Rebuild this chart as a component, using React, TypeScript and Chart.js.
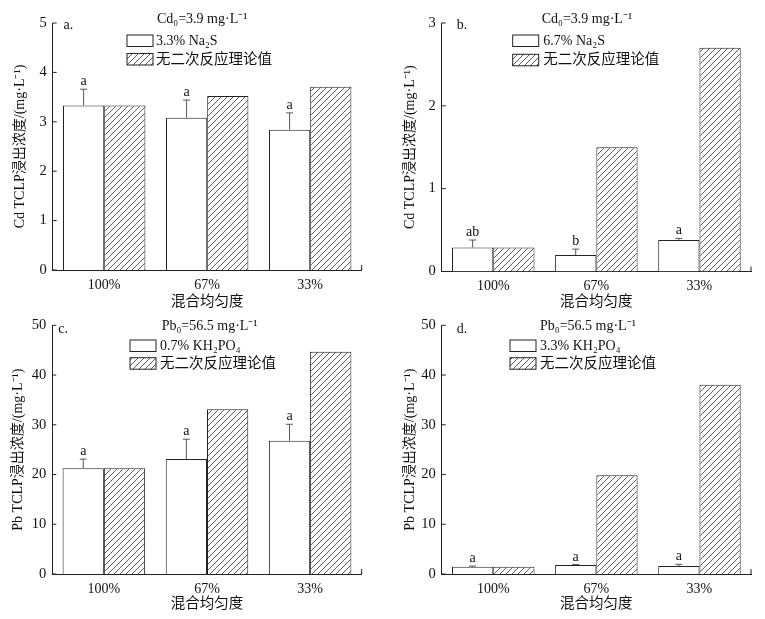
import React, { useEffect, useRef } from "react";
import { Chart, registerables } from "chart.js";

Chart.register(...registerables);

// ---------- data ----------
const categories = ["100%", "67%", "33%"];

const cdNa2S33 = [3.33, 3.08, 2.84];
const cdNa2S33Err = [0.33, 0.36, 0.34];
const cdTheoryA = [3.33, 3.52, 3.71];
const lettersA = ["a", "a", "a"];

const cdNa2S67 = [0.29, 0.2, 0.38];
const cdNa2S67Err = [0.09, 0.07, 0.02];
const cdTheoryB = [0.29, 1.5, 2.7];
const lettersB = ["ab", "b", "a"];

const pbKH07 = [21.25, 23.1, 26.8];
const pbKH07Err = [1.85, 4.0, 3.3];
const pbTheoryC = [21.25, 33.1, 44.7];
const lettersC = ["a", "a", "a"];

const pbKH33 = [1.47, 1.8, 1.6];
const pbKH33Err = [0.13, 0.1, 0.35];
const pbTheoryD = [1.47, 19.84, 38.06];
const lettersD = ["a", "a", "a"];

const theoryLabel = "无二次反应理论值";
const xTitle = "混合均匀度";
const cdYTitle = "Cd TCLP浸出浓度/(mg·L⁻¹)";
const pbYTitle = "Pb TCLP浸出浓度/(mg·L⁻¹)";

// ---------- style ----------
const FAMILY = '"Liberation Serif", "Times New Roman", "Noto Sans CJK SC", serif';
const FONT = `14px ${FAMILY}`;
const FONT_CJK = `14.5px ${FAMILY}`;
const INK = "#111";
const LINE = "#222";

type PanelCfg = {
  left: number; top: number; W: number; H: number;
  area: { l: number; r: number; t: number; b: number };
  yMax: number; yStep: number;
  measured: number[]; errors: number[]; theory: number[]; letters: string[];
  tag: string; tagX: number; tagY: number;
  legTitle: string; legTitleX: number; legTitleY: number;
  legLabel: string; boxX: number; box1Y: number; box2Y: number; textX: number;
  yTitle: string; yTitleX: number; xTitleDy: number;
};

const panels: PanelCfg[] = [
  {
    left: 0, top: 0, W: 380, H: 310,
    area: { l: 52.7, r: 361.7, t: 23, b: 270 },
    yMax: 5, yStep: 1,
    measured: cdNa2S33, errors: cdNa2S33Err, theory: cdTheoryA, letters: lettersA,
    tag: "a.", tagX: 63.5, tagY: 28.5,
    legTitle: "Cd₀=3.9 mg·L⁻¹", legTitleX: 157, legTitleY: 22.5,
    legLabel: "3.3% Na₂S", boxX: 127, box1Y: 35, box2Y: 53.5, textX: 156,
    yTitle: cdYTitle, yTitleX: 20, xTitleDy: 32.5,
  },
  {
    left: 380, top: 0, W: 385, H: 310,
    area: { l: 61.7, r: 371, t: 23, b: 271.5 },
    yMax: 3, yStep: 1,
    measured: cdNa2S67, errors: cdNa2S67Err, theory: cdTheoryB, letters: lettersB,
    tag: "b.", tagX: 76.7, tagY: 29,
    legTitle: "Cd₀=3.9 mg·L⁻¹", legTitleX: 161.7, legTitleY: 23,
    legLabel: "6.7% Na₂S", boxX: 132.7, box1Y: 35, box2Y: 54.3, textX: 163.3,
    yTitle: cdYTitle, yTitleX: 30.8, xTitleDy: 31,
  },
  {
    left: 0, top: 310, W: 380, H: 309,
    area: { l: 52.3, r: 361.7, t: 15.3, b: 264 },
    yMax: 50, yStep: 10,
    measured: pbKH07, errors: pbKH07Err, theory: pbTheoryC, letters: lettersC,
    tag: "c.", tagX: 58.3, tagY: 23,
    legTitle: "Pb₀=56.5 mg·L⁻¹", legTitleX: 161.7, legTitleY: 20,
    legLabel: "0.7% KH₂PO₄", boxX: 130, box1Y: 30, box2Y: 47.7, textX: 160,
    yTitle: pbYTitle, yTitleX: 18.5, xTitleDy: 30.5,
  },
  {
    left: 380, top: 310, W: 385, H: 309,
    area: { l: 61.7, r: 371, t: 15.3, b: 264 },
    yMax: 50, yStep: 10,
    measured: pbKH33, errors: pbKH33Err, theory: pbTheoryD, letters: lettersD,
    tag: "d.", tagX: 76.7, tagY: 23,
    legTitle: "Pb₀=56.5 mg·L⁻¹", legTitleX: 160, legTitleY: 20,
    legLabel: "3.3% KH₂PO₄", boxX: 130, box1Y: 30, box2Y: 47.7, textX: 160,
    yTitle: pbYTitle, yTitleX: 30, xTitleDy: 30,
  },
];

function makeHatch(): CanvasPattern | string {
  const c = document.createElement("canvas");
  const s = 6;
  c.width = s; c.height = s;
  const g = c.getContext("2d");
  if (!g) return "#fff";
  g.fillStyle = "#fff";
  g.fillRect(0, 0, s, s);
  g.strokeStyle = "#333";
  g.lineWidth = 0.8;
  g.beginPath();
  g.moveTo(0, s); g.lineTo(s, 0);
  g.moveTo(-1, 1); g.lineTo(1, -1);
  g.moveTo(s - 1, s + 1); g.lineTo(s + 1, s - 1);
  g.stroke();
  const p = g.createPattern(c, "repeat");
  return p || "#fff";
}

function makeAnnot(p: PanelCfg, hatch: CanvasPattern | string) {
  return {
    id: "annot",
    afterDatasetsDraw(chart: any) {
      const ctx: CanvasRenderingContext2D = chart.ctx;
      const { left, right, top, bottom } = chart.chartArea;
      const ys = chart.scales.y;
      ctx.save();
      // error bars + letters
      const meta = chart.getDatasetMeta(0);
      meta.data.forEach((bar: any, i: number) => {
        const v = p.measured[i];
        const e = p.errors[i];
        const y0 = ys.getPixelForValue(v);
        const y1 = ys.getPixelForValue(v + e);
        ctx.strokeStyle = "#555";
        ctx.lineWidth = 1;
        ctx.beginPath();
        ctx.moveTo(bar.x, y0);
        ctx.lineTo(bar.x, y1);
        ctx.moveTo(bar.x - 3.5, y1);
        ctx.lineTo(bar.x + 3.5, y1);
        ctx.stroke();
        ctx.fillStyle = INK;
        ctx.font = FONT;
        ctx.textAlign = "center";
        ctx.textBaseline = "alphabetic";
        ctx.fillText(p.letters[i], bar.x, y1 - 4);
      });
      // inward ticks
      ctx.strokeStyle = LINE;
      ctx.lineWidth = 1;
      ctx.beginPath();
      ys.ticks.forEach((t: any) => {
        const y = ys.getPixelForValue(t.value);
        ctx.moveTo(left, y);
        ctx.lineTo(left + 4, y);
      });
      ctx.moveTo(right, bottom);
      ctx.lineTo(right, bottom - 5);
      ctx.stroke();
      // panel tag
      ctx.fillStyle = INK;
      ctx.font = FONT;
      ctx.textAlign = "left";
      ctx.textBaseline = "alphabetic";
      ctx.fillText(p.tag, p.tagX, p.tagY);
      // legend
      ctx.fillText(p.legTitle, p.legTitleX, p.legTitleY);
      const bw = 26, bh = 11.5;
      ctx.fillStyle = "#fff";
      ctx.fillRect(p.boxX, p.box1Y, bw, bh);
      ctx.strokeStyle = LINE;
      ctx.strokeRect(p.boxX, p.box1Y, bw, bh);
      ctx.fillStyle = hatch as any;
      ctx.fillRect(p.boxX, p.box2Y, bw, bh);
      ctx.strokeRect(p.boxX, p.box2Y, bw, bh);
      ctx.fillStyle = INK;
      ctx.textBaseline = "middle";
      ctx.fillText(p.legLabel, p.textX, p.box1Y + bh / 2 + 0.5);
      ctx.font = FONT_CJK;
      ctx.fillText(theoryLabel, p.textX, p.box2Y + bh / 2 + 0.5);
      // axis titles
      ctx.textAlign = "center";
      ctx.fillText(xTitle, (left + right) / 2, bottom + p.xTitleDy);
      ctx.font = FONT;
      ctx.save();
      ctx.translate(p.yTitleX, (top + bottom) / 2);
      ctx.rotate(-Math.PI / 2);
      ctx.fillText(p.yTitle, 0, 0);
      ctx.restore();
      ctx.restore();
    },
  };
}

function Panel({ p }: { p: PanelCfg }) {
  const ref = useRef<HTMLCanvasElement | null>(null);
  useEffect(() => {
    if (!ref.current) return;
    const hatch = makeHatch();
    const chart = new Chart(ref.current, {
      type: "bar",
      data: {
        labels: categories,
        datasets: [
          { data: p.measured, backgroundColor: "#fff", borderColor: LINE, borderWidth: 1 },
          { data: p.theory, backgroundColor: hatch as any, borderColor: LINE, borderWidth: 1 },
        ],
      },
      options: {
        responsive: false,
        animation: false,
        devicePixelRatio: 1,
        layout: { padding: { left: 0, top: p.area.t, right: p.W - p.area.r, bottom: 0 } },
        datasets: { bar: { categoryPercentage: 0.8, barPercentage: 1 } },
        plugins: { legend: { display: false }, tooltip: { enabled: false } },
        scales: {
          x: {
            grid: { display: false, drawTicks: false },
            border: { color: LINE, width: 1 },
            ticks: { font: { family: FAMILY, size: 14 }, color: INK, padding: 6.5 },
            afterFit: (s: any) => { s.height = p.H - p.area.b; },
          },
          y: {
            min: 0,
            max: p.yMax,
            grid: { display: false, drawTicks: false },
            border: { color: LINE, width: 1 },
            ticks: { stepSize: p.yStep, font: { family: FAMILY, size: 14.5 }, color: INK, padding: 6 },
            afterFit: (s: any) => { s.width = p.area.l; },
          },
        },
      } as any,
      plugins: [makeAnnot(p, hatch)],
    });
    return () => chart.destroy();
  }, [p]);
  return (
    <canvas
      ref={ref}
      width={p.W}
      height={p.H}
      style={{ position: "absolute", left: p.left, top: p.top, width: p.W, height: p.H }}
    />
  );
}

export default function App() {
  return (
    <div style={{ position: "fixed", left: 0, top: 0, width: 765, height: 619, background: "#fff" }}>
      {panels.map((p, i) => (
        <Panel key={i} p={p} />
      ))}
    </div>
  );
}
